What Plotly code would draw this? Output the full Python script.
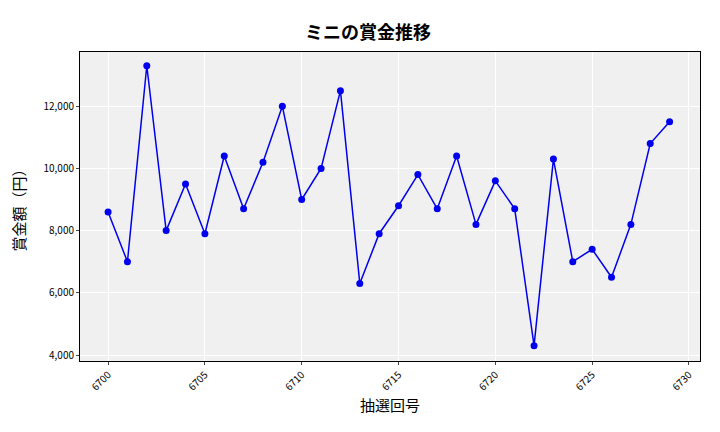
import plotly.graph_objects as go

draws = list(range(6700, 6730))
prizes = [8600, 7000, 13300, 8000, 9500, 7900, 10400, 8700, 10200, 12000,
          9000, 10000, 12500, 6300, 7900, 8800, 9800, 8700, 10400, 8200,
          9600, 8700, 4300, 10300, 7000, 7400, 6500, 8200, 10800, 11500]
title = "ミニの賞金推移"
xlabel = "抽選回号"
ylabel = "賞金額（円）"

font = "Noto Sans CJK JP"
fig = go.Figure(go.Scatter(x=draws, y=prizes, mode="lines+markers",
                           line=dict(color="#0000ee", width=1.5),
                           marker=dict(color="#0000ee", size=7)))
fig.update_layout(
    width=720, height=432, margin=dict(l=72, r=28, t=44, b=79, autoexpand=False),
    paper_bgcolor="white", plot_bgcolor="#f0f0f0",
    font=dict(family=font, color="black", size=10),
    title=dict(text="<b>" + title + "</b>", x=0.5, xanchor="center",
               yref="container", y=1 - 25 / 432, yanchor="middle",
               font=dict(size=18)),
    showlegend=False,
)
fig.update_xaxes(range=[6698.55, 6730.57], tickvals=[6700, 6705, 6710, 6715, 6720, 6725, 6730],
                 tickangle=-45, gridcolor="white", showline=True, linecolor="black", mirror=True,
                 ticks="outside", ticklen=3, zeroline=False,
                 title=dict(text=xlabel, font=dict(size=15), standoff=8))
fig.update_yaxes(range=[3807, 13743], tickvals=[4000, 6000, 8000, 10000, 12000],
                 tickformat=",", gridcolor="white", showline=True, linecolor="black", mirror=True,
                 ticks="outside", ticklen=3, zeroline=False,
                 title=dict(text=ylabel, font=dict(size=15)))
fig.write_html("out.html")
